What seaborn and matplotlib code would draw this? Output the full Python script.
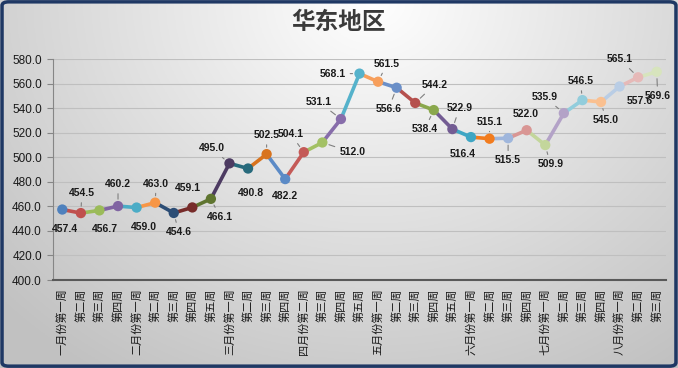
import numpy as np
import matplotlib
matplotlib.use("Agg")
import matplotlib.pyplot as plt
import seaborn as sns
from matplotlib.patches import FancyBboxPatch

# data
months = ["一月份", "二月份", "三月份", "四月份", "五月份", "六月份", "七月份", "八月份"]
weeks = [
    ["第一周", "第二周", "第三周", "第四周"],
    ["第一周", "第二周", "第三周", "第四周", "第五周"],
    ["第一周", "第二周", "第三周", "第四周"],
    ["第二周", "第三周", "第四周", "第五周"],
    ["第一周", "第二周", "第三周", "第四周", "第五周"],
    ["第一周", "第二周", "第三周", "第四周"],
    ["第一周", "第二周", "第三周", "第四周"],
    ["第一周", "第二周", "第三周"],
]
values = [457.4, 454.5, 456.7, 460.2,
          459.0, 463.0, 454.6, 459.1, 466.1,
          495.0, 490.8, 502.5, 482.2,
          504.1, 512.0, 531.1, 568.1,
          561.5, 556.6, 544.2, 538.4, 522.9,
          516.4, 515.1, 515.5, 522.0,
          509.9, 535.9, 546.5, 545.0,
          557.6, 565.1, 569.6]

labels = []
for m, ws in zip(months, weeks):
    for j, w in enumerate(ws):
        labels.append(m + w if j == 0 else w)

# excel "vary colors by point" palette
colors = ["#4F81BD", "#C0504D", "#9BBB59", "#8064A2", "#4BACC6", "#F79646",
          "#2C4D75", "#772C2A", "#5F7530", "#4D3B62", "#276A7C", "#D8731E",
          "#5B8AC6", "#C45A57", "#A3C165", "#876DAA", "#55B2CB", "#F79F5C",
          "#6A8FC8", "#B5504D", "#8AA84C", "#735C93", "#3FA6C4", "#F27C1E",
          "#9FB6DC", "#D99694", "#C3D69B", "#B3A2C7", "#92CDDC", "#FAC090",
          "#B9CDE5", "#E6B9B8", "#D7E4BD"]

# label offsets (pixels) and whether a leader line is drawn
offsets = [(3, -19), (1, 20), (5, -19), (0, 22), (7, -19), (1, 19), (5, -19), (-4, 19),
           (9, -18), (-18, 15), (3, -24), (0, 19), (0, -17), (-13, 18), (30, -10),
           (-22, 17), (-27, 0), (9, 18), (-8, -21), (19, 18), (-9, -19), (7, 21),
           (-8, -17), (0, 17), (0, -22), (-1, 16), (5, -19), (-19, 16), (-2, 19),
           (5, -18), (20, -14), (-18, 18), (1, -24)]
leaders = [0, 1, 0, 1, 0, 1, 1, 0, 1, 1, 0, 1, 0, 1, 1, 1, 1, 1, 1, 1, 1, 1,
           0, 1, 1, 0, 1, 1, 1, 1, 0, 1, 1]

sns.set_theme(style="white")
plt.rcParams["font.family"] = ["Liberation Sans", "Noto Sans CJK SC", "DejaVu Sans"]

W, H = 678, 368
fig = plt.figure(figsize=(W / 100, H / 100), dpi=100)

# background gradient
bg = fig.add_axes([0, 0, 1, 1], zorder=-10)
gx, gy = np.meshgrid(np.linspace(0, 1, 300), np.linspace(0, 1, 200))
d = np.sqrt(((gx - 0.55) / 0.75) ** 2 + ((gy - 1.0) / 1.2) ** 2)
g = 1 - 0.24 * np.clip(d, 0, 1)
bg.imshow(np.dstack([g, g, g]), origin="lower", extent=[0, 1, 0, 1], aspect="auto")
bg.set_axis_off()
fig.patches.append(FancyBboxPatch((0.003, 0.005), 0.994, 0.99, boxstyle="round,pad=0,rounding_size=0.01",
                                  transform=fig.transFigure, fill=False, ec="#1F3864", lw=2.5))

ax = fig.add_axes([53 / W, 1 - 280 / H, (666 - 53) / W, (280 - 59) / H])
ax.set_facecolor("none")

x = np.arange(len(values))
for i in range(1, len(values)):
    sns.lineplot(x=[x[i - 1], x[i]], y=[values[i - 1], values[i]], color=colors[i],
                 lw=2.6, ax=ax, zorder=2)
sns.scatterplot(x=x, y=values, hue=x, palette=colors, s=55, edgecolor="none",
                legend=False, ax=ax, zorder=3)

for i, v in enumerate(values):
    dx, dy = offsets[i]
    ax.annotate(f"{v:.1f}", xy=(x[i], v), xytext=(dx, dy), textcoords="offset pixels",
                ha="center", va="center", fontsize=7.5, fontweight="bold", color="#1a1a1a",
                arrowprops=dict(arrowstyle="-", color="#7f7f7f", lw=0.8, shrinkA=1, shrinkB=5)
                if leaders[i] else None, zorder=4)

ax.set_xlim(-0.5, len(values) - 0.5)
ax.set_ylim(400, 580)
ax.set_yticks(np.arange(400, 581, 20))
ax.set_yticklabels([f"{t:.1f}" for t in np.arange(400, 581, 20)], fontsize=8.5, color="#1a1a1a")
ax.set_xticks(x)
ax.set_xticklabels(labels, rotation=90, fontsize=8, family=["Noto Sans CJK SC", "DejaVu Sans"],
                   color="#1a1a1a", va="top")
ax.set_xticks(np.arange(-0.5, len(values), 1), minor=True)
ax.tick_params(axis="x", which="major", length=0, pad=6)
ax.tick_params(axis="x", which="minor", length=5, width=1, color="#595959", direction="out")
ax.tick_params(axis="y", length=4, width=0.8, color="#868686", direction="out", left=True, pad=4)
ax.set_xlabel("")
ax.set_ylabel("")
ax.grid(axis="y", color="#bfbfbf", lw=0.8)
ax.set_axisbelow(True)
for s in ["top", "right"]:
    ax.spines[s].set_visible(False)
ax.spines["left"].set_color("#868686")
ax.spines["left"].set_linewidth(0.8)
ax.spines["bottom"].set_color("#595959")
ax.spines["bottom"].set_linewidth(1.5)

fig.text(0.5, 1 - 22 / H, "华东地区", ha="center", va="center", fontsize=17, fontweight="bold",
         family=["Noto Sans CJK SC", "DejaVu Sans"], color="#3a3a3a")

fig.savefig("out.png", dpi=100)
